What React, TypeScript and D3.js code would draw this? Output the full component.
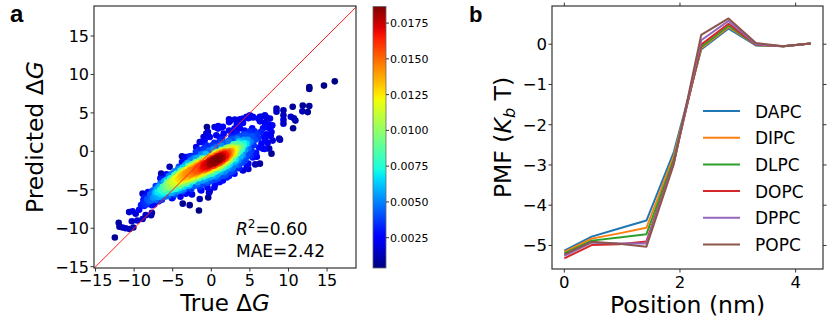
import React from 'react';
import * as d3 from 'd3';

// ---------- Panel a data: [true ΔG, predicted ΔG] ----------
const predictionPoints: [number, number][] = [
  // lower-left tail
  [-12.5,-11.2],[-12.0,-9.3],[-11.9,-9.8],[-11.5,-9.9],[-11.1,-10.0],[-10.6,-10.1],[-10.1,-9.9],[-10.3,-9.1],
  [-10.65,-7.9],[-10.2,-7.8],[-9.8,-8.1],[-9.35,-7.6],[-9.6,-9.0],[-8.9,-8.8],[-8.5,-8.3],[-7.8,-8.3],[-7.7,-8.0],
  [-8.9,-5.5],[-9.1,-7.0],[-8.8,-6.3],[-6.5,-2.9],[-5.4,-2.0],
  // lower outliers
  [-3.7,-6.8],[-2.8,-7.0],[-1.6,-7.7],[-1.5,-6.2],[-0.4,-6.0],[-0.2,-5.2],[-5.0,-6.0],
  [-3.8,-0.65],[-3.3,-0.74],[-2.8,-0.65],[-2.0,-0.1],
  // upper cluster above the diagonal
  [2.3,4.17],[2.3,3.8],[1.5,3.2],[0.87,2.96],[0.43,3.17],[-0.43,2.5],[-0.57,3.17],[-0.2,1.87],[-1.0,1.87],
  [0.65,2.1],[1.1,1.8],[1.6,2.3],[2.8,2.5],[3.5,2.96],[3.0,2.96],[2.3,2.7],[-1.96,0.57],[-1.5,1.2],
  [-0.87,1.43],[-0.65,0.78],[-1.0,0.35],[-1.1,1.2],[-0.65,2.3],[0.9,3.3],[1.3,3.1],[2.4,3.9],
  // upper right band
  [5.0,4.7],[5.4,4.5],[4.8,4.3],[4.1,3.7],[3.7,3.0],[3.3,3.5],[6.3,4.5],[6.95,4.7],[6.3,3.9],[6.95,3.7],
  [7.4,3.5],[7.8,3.3],[7.0,3.2],[7.17,4.4],[7.6,4.26],[6.5,4.5],[6.1,4.26],[5.4,4.4],[4.57,4.48],[4.1,4.26],
  [3.7,4.17],[3.04,4.13],
  // right tail
  [16.0,9.1],[14.6,8.55],[12.7,8.35],[12.7,8.1],[11.85,5.95],[12.7,5.9],[11.8,5.2],[12.5,5.1],[10.55,5.8],
  [10.3,4.5],[10.7,4.3],[10.9,4.0],[10.6,3.0],[9.35,5.35],[9.35,4.7],[9.35,4.1],[9.35,3.6],[8.45,5.55],
  [8.45,5.15],[8.9,1.5],[7.95,1.4],[7.5,0.35],[7.8,-0.3],[8.8,1.65],
  // right / lower edge
  [5.9,-0.7],[6.3,-1.6],[5.7,-1.7],[4.8,-2.3],[4.6,-2.0],[4.1,-2.5],[3.0,-2.9],[2.0,-3.4],[1.1,-4.0],
  [0.4,-4.7],[-0.3,-5.4],[-1.3,-5.1],[6.7,0.35],[7.0,1.4],[7.4,2.1],[7.8,2.5],
  // main cloud
  [-8.8,-6.6],[-8.6,-5.9],[-8.4,-6.9],[-8.3,-6.2],[-8.2,-5.3],[-8.7,-7.1],[-8.1,-6.5],
  [-7.9,-5.6],[-7.8,-6.4],[-7.6,-5.1],[-7.5,-6.0],[-7.4,-6.9],[-7.3,-5.4],[-7.2,-6.3],[-7.1,-4.9],[-7.7,-7.0],
  [-6.9,-5.3],[-6.8,-4.6],[-6.7,-5.9],[-6.6,-4.2],[-6.5,-5.0],[-6.4,-6.3],[-6.3,-4.6],[-6.2,-5.5],[-6.1,-3.9],
  [-6.0,-5.0],[-6.8,-6.5],[-6.4,-3.6],
  [-5.9,-4.4],[-5.8,-3.7],[-5.8,-5.2],[-5.7,-4.0],[-5.6,-5.8],[-5.5,-3.2],[-5.5,-4.7],[-5.4,-4.1],[-5.3,-5.4],
  [-5.3,-3.5],[-5.2,-4.5],[-5.1,-2.9],[-5.1,-6.1],[-5.0,-3.9],[-5.6,-4.6],[-5.2,-5.0],
  [-4.9,-3.8],[-4.9,-4.9],[-4.8,-3.1],[-4.8,-4.3],[-4.7,-2.6],[-4.7,-5.6],[-4.6,-3.6],[-4.5,-4.6],[-4.5,-2.9],
  [-4.4,-3.3],[-4.4,-5.2],[-4.3,-4.0],[-4.3,-2.3],[-4.2,-3.6],[-4.2,-4.8],[-4.1,-3.0],[-4.1,-4.3],[-4.0,-2.5],
  [-4.6,-4.1],[-4.0,-5.9],
  [-3.9,-3.4],[-3.9,-4.4],[-3.8,-2.7],[-3.8,-3.9],[-3.7,-2.1],[-3.7,-5.2],[-3.6,-3.2],[-3.6,-4.6],[-3.5,-2.5],
  [-3.5,-3.7],[-3.4,-1.8],[-3.4,-4.1],[-3.3,-3.0],[-3.3,-5.5],[-3.2,-2.4],[-3.2,-3.5],[-3.1,-4.2],[-3.1,-1.5],
  [-3.0,-2.9],[-3.0,-3.8],[-3.5,-4.9],[-3.8,-1.4],[-3.3,-2.7],[-3.7,-3.0],
  [-2.9,-2.6],[-2.9,-3.6],[-2.8,-1.9],[-2.8,-4.3],[-2.7,-3.1],[-2.7,-1.2],[-2.6,-2.4],[-2.6,-4.9],[-2.5,-3.4],
  [-2.5,-1.7],[-2.4,-2.8],[-2.4,-3.9],[-2.3,-2.1],[-2.3,-0.9],[-2.2,-3.1],[-2.2,-4.5],[-2.1,-2.5],[-2.1,-1.5],
  [-2.0,-3.5],[-2.0,-2.0],[-2.9,-5.3],[-2.6,-0.6],[-2.4,-3.3],[-2.7,-2.2],[-2.2,-2.8],[-2.5,-5.6],
  [-1.9,-2.2],[-1.9,-3.2],[-1.8,-1.5],[-1.8,-4.0],[-1.7,-2.7],[-1.7,-0.8],[-1.6,-2.0],[-1.6,-3.5],[-1.5,-1.2],
  [-1.5,-4.6],[-1.4,-2.4],[-1.4,-3.0],[-1.3,-1.7],[-1.3,-0.4],[-1.2,-2.8],[-1.2,-3.8],[-1.1,-2.1],[-1.1,-1.0],
  [-1.0,-3.3],[-1.0,-2.5],[-1.9,-0.2],[-1.4,-5.0],[-1.7,-1.9],[-1.2,-1.5],[-1.5,-2.9],[-1.8,-2.5],[-1.1,-4.3],
  [-1.6,0.2],
  [-0.9,-1.8],[-0.9,-2.9],[-0.8,-1.1],[-0.8,-3.6],[-0.7,-2.3],[-0.7,-0.4],[-0.6,-1.5],[-0.6,-3.1],[-0.5,-0.9],
  [-0.5,-4.1],[-0.4,-2.0],[-0.4,-2.6],[-0.3,-1.3],[-0.3,0.1],[-0.2,-2.4],[-0.2,-3.4],[-0.1,-1.6],[-0.1,-0.6],
  [0.0,-2.8],[0.0,-1.9],[-0.9,0.4],[-0.5,-4.7],[-0.7,-1.7],[-0.2,-1.1],[-0.4,-3.0],[-0.8,-2.4],[-0.1,-3.9],
  [-0.6,0.7],[-0.3,-1.8],[-0.5,-2.2],
  [0.1,-1.3],[0.1,-2.5],[0.2,-0.6],[0.2,-3.2],[0.3,-1.8],[0.3,0.2],[0.4,-1.0],[0.4,-2.7],[0.5,-0.4],
  [0.5,-3.7],[0.6,-1.5],[0.6,-2.1],[0.7,-0.8],[0.7,0.6],[0.8,-1.9],[0.8,-3.0],[0.9,-1.1],[0.9,-0.1],
  [1.0,-2.4],[1.0,-1.4],[0.1,0.8],[0.5,-4.3],[0.3,-1.2],[0.8,-0.6],[0.6,-2.6],[0.2,-1.9],[0.9,-3.5],
  [0.4,1.1],[0.7,-1.4],[0.5,-1.8],
  [1.1,-0.8],[1.1,-2.0],[1.2,-0.1],[1.2,-2.7],[1.3,-1.3],[1.3,0.7],[1.4,-0.5],[1.4,-2.2],[1.5,0.1],
  [1.5,-3.2],[1.6,-1.0],[1.6,-1.6],[1.7,-0.3],[1.7,1.1],[1.8,-1.4],[1.8,-2.5],[1.9,-0.6],[1.9,0.4],
  [2.0,-1.9],[2.0,-0.9],[1.1,1.3],[1.5,-3.8],[1.3,-0.7],[1.8,-0.1],[1.6,-2.1],[1.2,-1.4],[1.9,-3.0],[1.4,1.6],
  [2.1,-0.3],[2.1,-1.5],[2.2,0.4],[2.2,-2.2],[2.3,-0.8],[2.3,1.2],[2.4,0.0],[2.4,-1.7],[2.5,0.6],
  [2.5,-2.7],[2.6,-0.5],[2.6,-1.1],[2.7,0.2],[2.7,1.6],[2.8,-0.9],[2.8,-2.0],[2.9,-0.1],[2.9,0.9],
  [3.0,-1.4],[2.3,-3.2],[2.6,1.9],[2.9,-2.6],[2.4,-1.0],[2.8,0.5],
  [3.1,0.2],[3.1,-1.0],[3.2,0.9],[3.2,-1.7],[3.3,-0.3],[3.4,1.6],[3.4,0.5],[3.5,-1.2],[3.5,1.0],
  [3.6,-2.2],[3.7,0.0],[3.7,-0.6],[3.8,0.7],[3.8,2.0],[3.9,-0.4],[3.9,-1.5],[3.3,2.3],[3.6,1.3],
  [4.1,0.7],[4.1,-0.5],[4.2,1.5],[4.3,-1.3],[4.4,0.2],[4.5,2.1],[4.5,1.0],[4.6,-0.7],[4.7,1.5],
  [4.8,-1.6],[4.8,0.4],[4.9,2.5],[4.3,2.7],[4.9,-0.2],
  [5.1,1.2],[5.2,0.1],[5.3,2.0],[5.4,-0.8],[5.5,0.8],[5.6,2.6],[5.7,1.5],[5.8,-0.2],[5.9,2.2],[5.3,3.0],
  [6.1,1.7],[6.2,0.5],[6.4,2.5],[6.5,1.0],[6.7,3.0],[6.8,1.9],[6.9,0.3],
  [7.1,2.2],[7.3,1.1],[7.5,3.0],[7.7,2.0],[7.9,3.4],
  // densest part of the cloud
  [0.6,-0.9],[0.9,-1.6],[1.2,-0.6],[1.4,-1.2],[1.6,-0.4],[1.1,-1.0],[1.7,-0.9],[0.8,-1.2],[1.3,-1.8],
  [2.0,-0.5],[1.5,-0.7],[0.4,-1.5],[1.0,-0.2],[1.9,-1.2],[0.2,-0.9],[-0.3,-2.2],[-1.0,-2.0],[-2.0,-2.6],
  [-2.8,-3.0],[-3.5,-3.3],[2.4,-0.4],[0.0,-1.2],[-0.6,-1.9],[1.1,-1.5],
  [1.5,-1.3],[1.2,-0.4],[0.6,-0.6],[1.8,-1.0],[0.9,-0.9],[1.6,-0.1],
  // broad body of the cloud
  [-5.0,-4.6],[-4.8,-3.5],[-4.6,-4.9],[-4.0,-3.2],[-3.8,-4.2],[-3.6,-2.6],[-4.2,-4.5],
  [-3.0,-3.3],[-2.8,-2.4],[-3.2,-4.0],[-2.6,-3.7],[-3.0,-1.9],
  [-2.0,-2.9],[-1.8,-1.8],[-2.2,-3.7],[-1.6,-2.6],[-2.0,-1.4],[-1.7,-3.3],
  [-1.0,-1.6],[-0.8,-2.7],[-1.2,-0.9],[-0.6,-2.1],[-1.0,-3.0],[-0.7,-1.1],
  [0.0,-0.9],[0.2,-2.2],[-0.2,-1.5],[0.4,-0.2],[0.1,-2.9],[0.3,-1.6],
  [1.0,-0.6],[1.2,-1.9],[0.8,-0.1],[1.4,-0.9],[0.9,-2.2],[1.3,0.2],[1.1,-1.2],[0.7,-1.0],
  [2.0,-1.3],[1.8,-0.6],[2.2,-0.1],[1.6,-1.9],[2.1,0.5],[2.4,-1.3],
  [3.0,-0.5],[2.8,0.3],[3.2,-1.1],[3.1,0.8],[3.4,-0.2],
  [4.0,0.3],[3.8,-0.8],[4.2,1.0],
  // shoulder of the cloud
  [-5.8,-3.0],[-5.0,-5.4],[-4.2,-2.0],[-3.9,-5.0],[-3.0,-1.6],[-2.9,-4.5],[-2.0,-0.9],[-1.8,-4.3],
  [-0.9,-0.3],[-0.6,-3.9],[0.3,0.4],[0.6,-3.3],[1.3,0.9],[1.7,-2.7],[2.3,1.4],[2.7,-2.3],[3.3,1.8],
  [3.5,-1.8],[4.2,2.2],[4.4,-1.1],[5.0,2.6],[5.1,-0.6],[-6.6,-3.5],[-6.0,-5.9],[-7.2,-4.5],
  // ridge of the cloud
  [-7.0,-5.3],[-6.95,-5.9],[-6.6,-5.0],[-6.55,-5.6],[-6.2,-4.6],[-6.25,-5.3],[-5.8,-4.3],[-5.85,-4.9],
  [-5.4,-4.0],[-5.35,-4.6],[-5.45,-4.2],[-5.0,-3.7],[-4.95,-4.3],[-5.05,-4.0],[-4.6,-3.5],[-4.55,-4.0],
  [-4.65,-3.1],[-4.2,-3.2],[-4.15,-3.9],[-4.25,-3.6],[-3.8,-3.1],[-3.75,-3.6],[-3.85,-2.8],[-3.4,-2.9],
  [-3.35,-3.4],[-3.45,-2.5],[-3.0,-2.7],[-2.95,-3.2],[-3.05,-2.3],[-2.6,-2.5],[-2.55,-2.9],[-2.65,-2.1],
  [-2.2,-2.3],[-2.15,-2.7],[-2.25,-1.9],[-1.8,-2.1],[-1.75,-2.5],[-1.85,-1.7],[-1.4,-1.9],[-1.35,-2.3],
  [-1.45,-1.5],[-1.0,-1.7],[-0.95,-2.1],[-1.05,-1.3],[-0.6,-1.5],[-0.55,-1.9],[-0.65,-1.1],[-0.2,-1.3],
  [-0.15,-1.7],[-0.25,-0.9],[0.2,-1.1],[0.25,-1.5],[0.15,-0.7],[0.6,-0.9],[0.65,-1.3],[0.55,-0.5],
  [1.0,-0.7],[1.05,-1.1],[0.95,-0.3],[1.4,-0.6],[1.45,-1.0],[1.35,-0.2],[1.8,-0.4],[1.85,-0.8],
  [1.75,0.0],[2.2,-0.2],[2.25,-0.6],[2.6,0.0],[2.65,-0.4],[3.0,0.2],[3.05,-0.2],[3.4,0.4],[3.8,0.6],
  [4.2,0.8],[4.6,1.0],
];

const scatterTicks = [-15, -10, -5, 0, 5, 10, 15];
const colorbarTicks = [0.0025, 0.005, 0.0075, 0.01, 0.0125, 0.015, 0.0175];
const colorbarLabels = ['0.0025', '0.0050', '0.0075', '0.0100', '0.0125', '0.0150', '0.0175'];
const colorbarRange = [0.00038, 0.01866];
const r2Text = '0.60';
const maeText = '2.42';

// ---------- Panel b data ----------
const positions = [0, 0.473, 0.947, 1.42, 1.893, 2.367, 2.84, 3.313, 3.787, 4.26];
const lipids = ['DAPC', 'DIPC', 'DLPC', 'DOPC', 'DPPC', 'POPC'];
const pmfDAPC = [-5.13, -4.78, -4.58, -4.38, -2.68, -0.13, 0.39, -0.03, -0.05, 0.02];
const pmfDIPC = [-5.16, -4.83, -4.70, -4.56, -2.78, -0.10, 0.43, -0.02, -0.05, 0.02];
const pmfDLPC = [-5.20, -4.88, -4.80, -4.72, -2.86, -0.07, 0.46, -0.02, -0.05, 0.02];
const pmfDOPC = [-5.32, -4.99, -4.97, -4.90, -2.93, -0.01, 0.51, -0.01, -0.05, 0.02];
const pmfDPPC = [-5.26, -4.93, -4.95, -4.95, -2.95, 0.10, 0.58, 0.00, -0.05, 0.02];
const pmfPOPC = [-5.22, -4.91, -4.96, -5.03, -2.98, 0.23, 0.64, 0.03, -0.05, 0.02];
const pmfSeries = [pmfDAPC, pmfDIPC, pmfDLPC, pmfDOPC, pmfDPPC, pmfPOPC];
const lipidColors = ['#1f77b4', '#ff7f0e', '#2ca02c', '#d62728', '#9467bd', '#8c564b'];
const pmfXTicks = [0, 2, 4];
const pmfYTicks = [0, -1, -2, -3, -4, -5];

// ---------- helpers ----------
const jetR = d3.scaleLinear([0, 0.35, 0.66, 0.89, 1], [0, 0, 1, 1, 0.5]).clamp(true);
const jetG = d3.scaleLinear([0, 0.125, 0.375, 0.64, 0.91, 1], [0, 0, 1, 1, 0, 0]).clamp(true);
const jetB = d3.scaleLinear([0, 0.11, 0.34, 0.65, 1], [0.5, 1, 1, 0, 0]).clamp(true);
function jet(t: number) {
  return d3.rgb(jetR(t) * 255, jetG(t) * 255, jetB(t) * 255).formatHex();
}

// Gaussian KDE (Scott's rule, slightly narrowed) evaluated at each point
function kde(pts: [number, number][]) {
  const n = pts.length;
  const mx = d3.mean(pts, (p) => p[0])!;
  const my = d3.mean(pts, (p) => p[1])!;
  let sxx = 0, syy = 0, sxy = 0;
  pts.forEach(([x, y]) => {
    sxx += (x - mx) * (x - mx);
    syy += (y - my) * (y - my);
    sxy += (x - mx) * (y - my);
  });
  const f = Math.pow(n, -1 / 6) * 0.85;
  const a = (sxx / (n - 1)) * f * f, b = (sxy / (n - 1)) * f * f, c = (syy / (n - 1)) * f * f;
  const det = a * c - b * b;
  const ia = c / det, ib = -b / det, ic = a / det;
  const norm = 1 / (n * 2 * Math.PI * Math.sqrt(det));
  return pts.map(([x, y]) => {
    let s = 0;
    for (const [qx, qy] of pts) {
      const dx = x - qx, dy = y - qy;
      s += Math.exp(-0.5 * (ia * dx * dx + 2 * ib * dx * dy + ic * dy * dy));
    }
    return s * norm;
  });
}

const FONT = 'DejaVu Sans, sans-serif';
const LABEL_FONT = 'Liberation Sans, Arial, sans-serif';
const fmt = (v: number) => (v < 0 ? '\u2212' + Math.abs(v) : String(v));

export default function App() {
  // Panel a scales
  const xA = d3.scaleLinear().domain([-15.2, 18.75]).range([94, 356]);
  const yA = d3.scaleLinear().domain([-15.17, 18.9]).range([268, 6]);
  const dens = kde(predictionPoints);
  const [dmin, dmax] = d3.extent(dens) as [number, number];
  const order = d3.range(predictionPoints.length).sort((i, j) => dens[i] - dens[j]);

  const cb = { x0: 373, x1: 386, y0: 6.5, y1: 268 };
  const cY = d3.scaleLinear().domain(colorbarRange).range([cb.y1, cb.y0]);
  const stops = d3.range(0, 1.0001, 0.02);

  // Panel b scales
  const xB = d3.scaleLinear().domain([-0.213, 4.473]).range([552, 823]);
  const yB = d3.scaleLinear().domain([-5.585, 0.95]).range([269, 6]);
  const line = d3.line<number>().x((_, i) => xB(positions[i])).y((d) => yB(d));

  const frame = '#333';
  const legendY0 = 111;
  const legendDy = 26.7;

  return (
    <svg width={830} height={323} style={{ position: 'absolute', left: 0, top: 0, background: '#fff' }}
      fontFamily={FONT}>
      <defs>
        <clipPath id="clipA"><rect x={94} y={6} width={262} height={262} /></clipPath>
        <clipPath id="clipB"><rect x={552} y={6} width={271} height={263} /></clipPath>
        <linearGradient id="jetGrad" x1="0" y1="1" x2="0" y2="0">
          {stops.map((t) => (
            <stop key={t} offset={`${t * 100}%`} stopColor={jet(t)} />
          ))}
        </linearGradient>
      </defs>

      {/* ---------- Panel a ---------- */}
      <text x={10} y={22} fontFamily={LABEL_FONT} fontWeight="bold" fontSize={24}>a</text>
      <g clipPath="url(#clipA)">
        {order.map((i) => (
          <circle key={i} cx={xA(predictionPoints[i][0])} cy={yA(predictionPoints[i][1])} r={3.3}
            fill={jet((dens[i] - dmin) / (dmax - dmin))} />
        ))}
        <line x1={xA(-15.2)} y1={yA(-15.2)} x2={xA(18.9)} y2={yA(18.9)} stroke="#ff2020" strokeWidth={1} />
      </g>
      <rect x={94} y={6} width={262} height={262} fill="none" stroke={frame} strokeWidth={1.2} />
      {scatterTicks.map((v) => (
        <g key={'ay' + v}>
          <line x1={90.5} x2={94} y1={yA(v)} y2={yA(v)} stroke={frame} />
          <text x={89} y={yA(v) + 6} textAnchor="end" fontSize={16}>{fmt(v)}</text>
        </g>
      ))}
      {scatterTicks.map((v) => (
        <g key={'ax' + v}>
          <line x1={xA(v)} x2={xA(v)} y1={268} y2={271.5} stroke={frame} />
          <text x={xA(v)} y={286} textAnchor="middle" fontSize={16}>{fmt(v)}</text>
        </g>
      ))}
      <text x={225} y={311} textAnchor="middle" fontSize={23}>
        True Δ<tspan fontStyle="italic">G</tspan>
      </text>
      <text transform="translate(43,137) rotate(-90)" textAnchor="middle" fontSize={23.5}>
        Predicted Δ<tspan fontStyle="italic">G</tspan>
      </text>
      <text x={236} y={235} fontSize={17}>
        <tspan fontStyle="italic">R</tspan>
        <tspan dy={-7} fontSize={12}>2</tspan>
        <tspan dy={7}>={r2Text}</tspan>
      </text>
      <text x={236} y={256.5} fontSize={17}>MAE={maeText}</text>

      {/* colorbar */}
      <rect x={cb.x0} y={cb.y0} width={cb.x1 - cb.x0} height={cb.y1 - cb.y0} fill="url(#jetGrad)"
        stroke="#666" strokeWidth={0.8} />
      {colorbarTicks.map((v, i) => (
        <g key={'cb' + v}>
          <line x1={cb.x1} x2={cb.x1 + 3} y1={cY(v)} y2={cY(v)} stroke={frame} />
          <text x={390} y={cY(v) + 4} fontSize={11}>{colorbarLabels[i]}</text>
        </g>
      ))}

      {/* ---------- Panel b ---------- */}
      <text x={469} y={22} fontFamily={LABEL_FONT} fontWeight="bold" fontSize={22}>b</text>
      <g clipPath="url(#clipB)">
        {pmfSeries.map((s, k) => (
          <path key={lipids[k]} d={line(s) || ''} fill="none" stroke={lipidColors[k]} strokeWidth={2}
            strokeLinejoin="round" />
        ))}
      </g>
      <rect x={552} y={6} width={271} height={263} fill="none" stroke={frame} strokeWidth={1.2} />
      {pmfYTicks.map((v) => (
        <g key={'by' + v}>
          <line x1={548.5} x2={552} y1={yB(v)} y2={yB(v)} stroke={frame} />
          <line x1={823} x2={826.5} y1={yB(v)} y2={yB(v)} stroke={frame} />
          <text x={547} y={yB(v) + 6} textAnchor="end" fontSize={16.5}>{fmt(v)}</text>
        </g>
      ))}
      {pmfXTicks.map((v) => (
        <g key={'bx' + v}>
          <line x1={xB(v)} x2={xB(v)} y1={269} y2={272.5} stroke={frame} />
          <line x1={xB(v)} x2={xB(v)} y1={2.5} y2={6} stroke={frame} />
          <text x={xB(v)} y={288} textAnchor="middle" fontSize={16.5}>{v}</text>
        </g>
      ))}
      <text x={687.5} y={312.5} textAnchor="middle" fontSize={23.5}>Position (nm)</text>
      <text transform="translate(511,137.5) rotate(-90)" textAnchor="middle" fontSize={23.5}>
        PMF (<tspan fontStyle="italic">K</tspan>
        <tspan fontStyle="italic" fontSize={16} dy={4}>b</tspan>
        <tspan dy={-4}> T)</tspan>
      </text>

      {/* legend */}
      {lipids.map((name, k) => (
        <g key={'lg' + name}>
          <line x1={703} x2={740} y1={legendY0 + k * legendDy} y2={legendY0 + k * legendDy}
            stroke={lipidColors[k]} strokeWidth={2} />
          <text x={755} y={legendY0 + k * legendDy + 6.5} fontSize={17}>{name}</text>
        </g>
      ))}
    </svg>
  );
}
